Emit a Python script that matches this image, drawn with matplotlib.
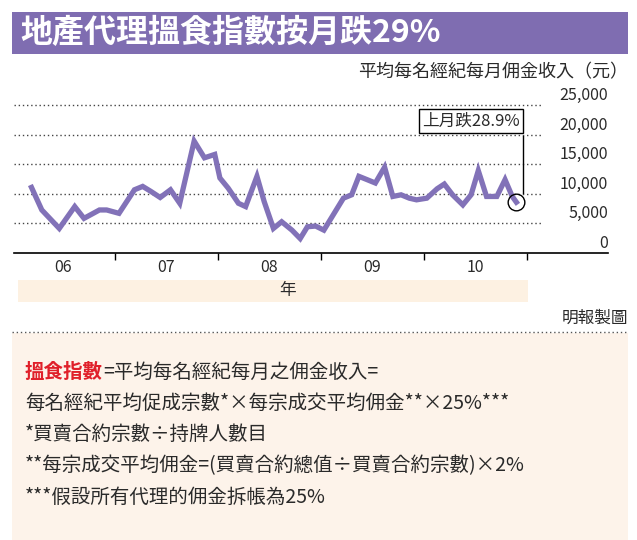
import matplotlib
matplotlib.use('Agg')
import matplotlib.pyplot as plt
from matplotlib.patches import Rectangle

plt.rcParams['font.family'] = ['Noto Sans CJK TC', 'Noto Sans CJK JP', 'Noto Sans CJK SC',
                               'DejaVu Sans']

W, H = 637, 540

# data (decimal year, HK$ per agent per month)
years = [2006.19, 2006.29, 2006.46, 2006.61, 2006.70, 2006.85, 2006.92, 2007.04,
         2007.19, 2007.27, 2007.35, 2007.44, 2007.54, 2007.63, 2007.77, 2007.87,
         2007.97, 2008.02, 2008.10, 2008.20, 2008.27, 2008.38, 2008.45, 2008.54,
         2008.62, 2008.72, 2008.80, 2008.87, 2008.95, 2009.03, 2009.12, 2009.22,
         2009.30, 2009.37, 2009.45, 2009.53, 2009.62, 2009.70, 2009.78, 2009.86,
         2009.93, 2010.03, 2010.13, 2010.20, 2010.28, 2010.38, 2010.46, 2010.53,
         2010.61, 2010.71, 2010.79, 2010.86, 2010.90]
income = [11080, 7270, 4150, 7840, 5850, 7270, 7270, 6700,
          10680, 11250, 10400, 9375, 10680, 8400, 18900, 16080,
          16650, 12670, 10970, 8400, 7840, 12950, 8700, 4150,
          5280, 3860, 2440, 4430, 4550, 3860, 6420, 9260,
          9830, 12950, 12390, 11820, 14490, 9550, 9830, 9260,
          8980, 9260, 10850, 11650, 9830, 8120, 9830, 13920,
          9550, 9550, 12390, 9550, 8580]
yticks = [0, 5000, 10000, 15000, 20000, 25000]
year_labels = ['06', '07', '08', '09', '10']

title = '地產代理搵食指數按月跌29%'
ylabel = '平均每名經紀每月佣金收入（元）'
callout = '上月跌28.9%'
notes = ['每名經紀平均促成宗數*×每宗成交平均佣金**×25%***',
         '*買賣合約宗數÷持牌人數目',
         '**每宗成交平均佣金=(買賣合約總值÷買賣合約宗數)×2%',
         '***假設所有代理的佣金拆帳為25%']

purple = '#7f6db1'
line_col = '#8272b8'
peach = '#fdf3ea'
txt = '#2a2a2a'


def fx(x):
    return x / W


def fy(y):
    return 1 - y / H


def rect(x0, y0, x1, y1, color):
    fig.patches.append(Rectangle((fx(x0), fy(y1)), (x1 - x0) / W, (y1 - y0) / H,
                                 transform=fig.transFigure, color=color, lw=0, zorder=0))


fig = plt.figure(figsize=(W / 100, H / 100), dpi=100)

# title bar
rect(12, 12, 628, 54, purple)
fig.text(fx(20), fy(33), title, color='white', fontsize=23, fontweight='bold',
         va='center', ha='left')
fig.text(fx(628), fy(72), ylabel, color=txt, fontsize=13, ha='right', va='center')

# year band
rect(18, 280, 528, 302, '#fdf1e2')
fig.text(fx(288), fy(291), '年', color=txt, fontsize=12, ha='center', va='center')

# chart
ax = fig.add_axes([fx(14), fy(253), (608 - 14) / W, (253 - 100) / H])
ax.set_facecolor('none')
ax.set_xlim(2006.02, 2011.79)
ax.set_ylim(0, 25845)
for s in ['top', 'left', 'right']:
    ax.spines[s].set_visible(False)
ax.spines['bottom'].set_linewidth(1.2)
ax.set_yticks([])
ax.set_xticks([2007, 2008, 2009, 2010, 2011])
ax.set_xticklabels([])
ax.tick_params(axis='x', which='major', length=5, direction='out', width=1)
ax.set_xticks([2006.5, 2007.5, 2008.5, 2009.5, 2010.5], minor=True)
ax.set_xticklabels(year_labels, minor=True, fontsize=11.5, color=txt)
ax.tick_params(axis='x', which='minor', length=0, pad=4)

ax.hlines(yticks[1:], 2006.02, 2011.15, colors='#444444', linestyles=(0, (1, 2)), lw=1)
tr = ax.get_yaxis_transform()
for v in yticks:
    ax.text(1.0, v + 1600, f'{v:,}', transform=tr, ha='right', va='center',
            fontsize=11.5, color=txt)

ax.plot(years, income, color=line_col, lw=3.8, solid_joinstyle='miter', zorder=3)
ax.plot(years[-1], income[-1], 'o', ms=12, mfc='none', mec='black', mew=1, zorder=4)
ax.plot([2010.96, 2010.96], [19800, income[-1] + 1500], color='black', lw=1)
ax.text(2010.46, 22300, callout, ha='center', va='center', fontsize=12, color=txt,
        bbox=dict(boxstyle='square,pad=0.2', fc='white', ec='black', lw=1), zorder=5)

# credit and notes
fig.text(fx(628), fy(318), '明報製圖', color=txt, fontsize=12, ha='right', va='center')
fig.lines.append(plt.Line2D([fx(12), fx(628)], [fy(332), fy(332)], transform=fig.transFigure,
                            color='#555555', ls=(0, (1, 2)), lw=1))
rect(12, 333, 628, 540, peach)

red = fig.text(fx(25), fy(372), '搵食指數', color='#e0202a', fontsize=14,
               fontweight='bold', ha='left', va='center')
fig.canvas.draw()
bb = red.get_window_extent()
fig.text(bb.x1 / W, fy(372), '=平均每名經紀每月之佣金收入=', color=txt, fontsize=14,
         ha='left', va='center')
for i, line in enumerate(notes):
    fig.text(fx(25), fy(403 + 31.5 * i), line, color=txt, fontsize=14,
             ha='left', va='center')

fig.savefig('out.png', dpi=100)
